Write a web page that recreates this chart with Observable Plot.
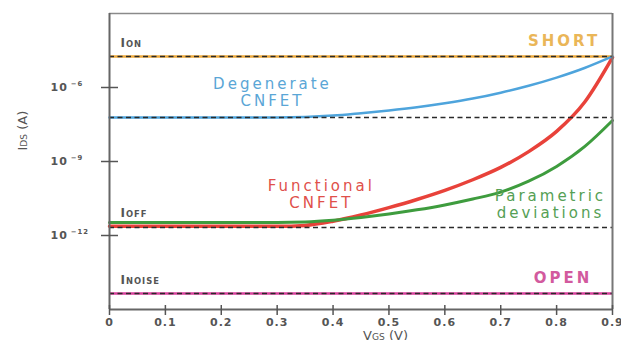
<!DOCTYPE html>
<html>
<head>
<meta charset="utf-8">
<script src="https://cdn.jsdelivr.net/npm/d3@7"></script>
<script src="https://cdn.jsdelivr.net/npm/@observablehq/plot@0.6"></script>
<style>
  html, body { margin: 0; padding: 0; background: #fff; }
  #chart { width: 621px; height: 340px; overflow: hidden; }
</style>
</head>
<body>
<div id="chart"></div>
<script>
// ---- data (log10 of drain current in A vs gate voltage in V) ----
const vgs = [0, 0.05, 0.1, 0.15, 0.2, 0.25, 0.3, 0.35, 0.4, 0.45, 0.5, 0.55, 0.6, 0.65, 0.7, 0.75, 0.8, 0.85, 0.9];
const degenerate = [-7.22, -7.22, -7.22, -7.22, -7.22, -7.22, -7.22, -7.20, -7.14, -7.04, -6.93, -6.80, -6.64, -6.45, -6.21, -5.93, -5.60, -5.21, -4.74];
const functional = [-11.63, -11.63, -11.63, -11.63, -11.63, -11.63, -11.63, -11.59, -11.42, -11.17, -10.87, -10.54, -10.17, -9.74, -9.24, -8.60, -7.78, -6.60, -4.78];
const parametric = [-11.47, -11.47, -11.47, -11.47, -11.47, -11.47, -11.47, -11.45, -11.38, -11.27, -11.13, -10.96, -10.76, -10.52, -10.24, -9.80, -9.20, -8.40, -7.34];

const levelOn = -4.74;      // I_ON  (SHORT)
const levelDegen = -7.22;   // degenerate level
const levelOff = -11.68;    // I_OFF
const levelNoise = -14.35;  // I_NOISE (OPEN)

const xTicks = [0, 0.1, 0.2, 0.3, 0.4, 0.5, 0.6, 0.7, 0.8, 0.9];
const yTicks = [-6, -9, -12];

// annotation anchors in data units
const curveLabels = [
  {v: 0.2916, i: -6.18, text: "Degenerate\nCNFET", color: "#5aa6d6"},
  {v: 0.379, i: -10.32, text: "Functional\nCNFET", color: "#e0504a"},
  {v: 0.789, i: -10.74, text: "Parametric\ndeviations", color: "#55a055"}
];
const stateLabels = [
  {v: 0.878, i: -4.14, text: "SHORT", color: "#eab658"},
  {v: 0.864, i: -13.74, text: "OPEN", color: "#d25a9e"}
];
const currentLabels = [
  {v: 0.0197, i: -4.22, text: "I_{ON}"},
  {v: 0.0197, i: -11.11, text: "I_{OFF}"},
  {v: 0.0197, i: -13.82, text: "I_{NOISE}"}
];

const toRows = (arr) => vgs.map((v, k) => ({v, i: arr[k]}));

const plot = Plot.plot({
  width: 621,
  height: 340,
  marginLeft: 109,
  marginRight: 9,
  marginTop: 13,
  marginBottom: 31,
  style: {fontFamily: "'DejaVu Sans', sans-serif", background: "#fff", overflow: "visible"},
  x: {domain: [0, 0.9], axis: null},
  y: {domain: [-15, -3], axis: null},
  marks: [
    // coloured level lines
    Plot.ruleY([levelOn], {stroke: "#eeaa3c", strokeWidth: 2.5}),
    Plot.ruleY([levelNoise], {stroke: "#d8409c", strokeWidth: 2.5}),
    // curves
    Plot.line(toRows(functional), {x: "v", y: "i", stroke: "#e8423a", strokeWidth: 3.5, curve: "monotone-x"}),
    Plot.line(toRows(parametric), {x: "v", y: "i", stroke: "#3e9c3e", strokeWidth: 3, curve: "monotone-x"}),
    Plot.line(toRows(degenerate), {x: "v", y: "i", stroke: "#4ea4dc", strokeWidth: 2.5, curve: "monotone-x"}),
    // dashed reference lines
    Plot.ruleY([levelOn, levelDegen, levelOff, levelNoise], {stroke: "#2a2a2a", strokeWidth: 1.5, strokeDasharray: "5,3.5"}),
    // frame
    Plot.ruleY([-3], {stroke: "#8a8a8a", strokeWidth: 1.5}),
    Plot.ruleX([0.9], {stroke: "#777", strokeWidth: 2}),
    Plot.ruleX([0], {stroke: "#666", strokeWidth: 2}),
    Plot.ruleY([-15], {stroke: "#666", strokeWidth: 2}),
    // tick marks crossing the axes
    Plot.ruleX(xTicks, {x: d => d, y1: -15, y2: -15, insetTop: -4, insetBottom: -6, stroke: "#555", strokeWidth: 1.5}),
    Plot.ruleY(yTicks, {y: d => d, x1: 0, x2: 0, insetLeft: -8, insetRight: -9, stroke: "#555", strokeWidth: 1.5}),
    // tick labels
    Plot.text(xTicks, {x: d => d, y: -15, dy: 13, text: d => d === 0 ? "0" : d.toFixed(1), fontSize: 11, fontWeight: "bold", fill: "#555"}),
    Plot.text(yTicks, {x: 0, y: d => d, dx: -59, textAnchor: "start", text: d => "10^{" + "\u2212" + Math.abs(d) + "}", fontSize: 11, fontWeight: "bold", fill: "#555"}),
    // axis titles
    Plot.text(["I_{DS} (A)"], {frameAnchor: "left", dx: -87, dy: -11, rotate: -90, text: d => d, fontSize: 13, fill: "#555"}),
    Plot.text(["V_{GS} (V)"], {frameAnchor: "bottom", dx: 24.5, dy: 30, text: d => d, fontSize: 13, fill: "#555"}),
    // annotations
    Plot.text(curveLabels, {x: "v", y: "i", text: "text", fill: "color", fontSize: 15, lineHeight: 1.13}),
    Plot.text(stateLabels, {x: "v", y: "i", text: "text", fill: "color", fontSize: 15, textAnchor: "end", fontWeight: "bold"}),
    Plot.text(currentLabels, {x: "v", y: "i", text: "text", fill: "#555", fontSize: 12, fontWeight: "bold", textAnchor: "start"})
  ]
});

// letter spacing for the wide annotation type
plot.querySelectorAll('g[aria-label="text"]').forEach(g => {
  const fs = g.getAttribute("font-size");
  if (fs === "15") g.setAttribute("letter-spacing", "3");
  if (fs === "11") g.setAttribute("letter-spacing", "1");
  if (fs === "12") g.setAttribute("letter-spacing", "1");
});

// turn _{..} into small-caps style subscripts and ^{..} into superscripts
const NS = "http://www.w3.org/2000/svg";
plot.querySelectorAll("text").forEach(el => {
  if (el.querySelector("tspan")) return;
  const s = el.textContent;
  if (!/[_^]\{/.test(s)) return;
  el.textContent = "";
  const re = /([_^])\{([^}]*)\}/g;
  let last = 0, m, shift = 0;
  const add = (str, attrs) => {
    const t = document.createElementNS(NS, "tspan");
    t.textContent = str;
    for (const k in attrs) t.setAttribute(k, attrs[k]);
    el.appendChild(t);
  };
  while ((m = re.exec(s))) {
    if (m.index > last) { add(s.slice(last, m.index), shift ? {dy: -shift} : {}); shift = 0; }
    if (m[1] === "_") add(m[2], {"font-size": "0.7em"});
    else { add(m[2], {"font-size": "0.62em", dy: -5, dx: 3}); shift = -5; }
    last = re.lastIndex;
  }
  if (last < s.length) add(s.slice(last), shift ? {dy: -shift} : {});
});

document.getElementById("chart").appendChild(plot);
</script>
</body>
</html>
